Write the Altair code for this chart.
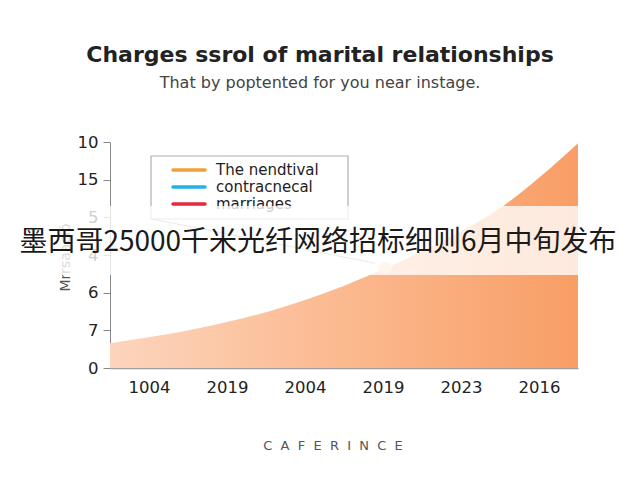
import json
import altair as alt
import pandas as pd

# ---- data ----
area_x = [0.0, 1.15, 2.01, 2.86, 3.53, 4.29, 5.04, 5.51, 6.0]
area_y = [0.66, 1.06, 1.49, 2.07, 2.65, 3.40, 4.30, 5.07, 5.97]

x_tick_labels = ["1004", "2019", "2004", "2019", "2023", "2016"]
y_tick_labels = ["0", "7", "6", "4", "5", "15", "10"]

legend_names = ["The nendtival", "contracnecal", "marriages"]
legend_colors = ["#f0a03a", "#22b2e6", "#e6283c"]

marker_x = [3.53]
marker_y = [2.65]

arrow_x = [0.53]
arrow_y = [3.96]
arrow_x2 = [3.40]
arrow_y2 = [2.78]

title_text = "Charges ssrol of marital relationships"
subtitle_text = "That by poptented for you near instage."
y_title = "Mrrsaació"
banner_text = "墨西哥25000千米光纤网络招标细则6月中旬发布"
caption_text = "\u00a0\u00a0".join("CAFERINCE")

W, H = 468, 226
FONT = "DejaVu Sans"

area_df = pd.DataFrame({"x": area_x, "y": area_y})

x_label_expr = json.dumps(x_tick_labels) + "[floor(datum.value)]"
y_label_expr = json.dumps(y_tick_labels) + "[round(datum.value)]"

xs = alt.Scale(domain=[0, 6], nice=False, zero=False)
ys = alt.Scale(domain=[0, 6], nice=False)

area = alt.Chart(area_df).mark_area(
    interpolate="monotone",
    color=alt.Gradient(
        gradient="linear",
        stops=[
            alt.GradientStop(color="#fcd5bd", offset=0),
            alt.GradientStop(color="#fbb98f", offset=0.5),
            alt.GradientStop(color="#f89e66", offset=1),
        ],
        x1=0, x2=1, y1=0, y2=0,
    ),
).encode(
    x=alt.X("x:Q", scale=xs, axis=alt.Axis(
        values=[0.5, 1.5, 2.5, 3.5, 4.5, 5.5], labelExpr=x_label_expr,
        title=None, ticks=False, grid=False, labelFontSize=16.5, labelFont=FONT,
        labelColor="#222", labelPadding=11, labelOverlap=False,
        domainColor="#a0a0a0", domainWidth=1.5)),
    y=alt.Y("y:Q", scale=ys, axis=alt.Axis(
        values=[0, 1, 2, 3, 4, 5, 6], tickCount=7, labelExpr=y_label_expr,
        title=y_title, titleFont=FONT, titleFontSize=14, titleFontWeight="normal",
        titleColor="#555", titleX=-45, titleY=115, titleAngle=270, titleBaseline="middle",
        titleAlign="center", labelOverlap=False,
        grid=False, tickSize=7, tickColor="#888", labelFontSize=16.5, labelFont=FONT,
        labelColor="#222", labelPadding=5, domainColor="#888")),
)

marker = alt.Chart(pd.DataFrame({"x": marker_x, "y": marker_y})).mark_point(
    filled=True, size=170, color="#f9d2b8", opacity=1
).encode(x=alt.X("x:Q", scale=xs), y=alt.Y("y:Q", scale=ys))

arrow = alt.Chart(pd.DataFrame({"x": arrow_x, "y": arrow_y, "x2": arrow_x2, "y2": arrow_y2})).mark_rule(
    color="#9a9a9a", strokeWidth=1
).encode(x=alt.X("x:Q", scale=xs), y=alt.Y("y:Q", scale=ys), x2="x2:Q", y2="y2:Q")

# legend box (drawn inside the plot)
legend_box = alt.Chart(pd.DataFrame({"a": [0]})).mark_rect(
    fill="white", stroke="#b0b0b0", strokeWidth=1.2
).encode(x=alt.value(41), x2=alt.value(238), y=alt.value(14), y2=alt.value(77))

legend_layers = []
row_y = [28, 45, 62]
for name, col, ry in zip(legend_names, legend_colors, row_y):
    one = pd.DataFrame({"name": [name]})
    legend_layers.append(
        alt.Chart(one).mark_rule(strokeWidth=3.5, strokeCap="round", color=col).encode(
            x=alt.value(63), x2=alt.value(95), y=alt.value(ry))
    )
    legend_layers.append(
        alt.Chart(one).mark_text(
            align="left", baseline="middle", fontSize=15, font=FONT, color="#222"
        ).encode(x=alt.value(106), y=alt.value(ry), text="name:N")
    )

banner = alt.Chart(pd.DataFrame({"a": [0]})).mark_rect(
    fill="white", opacity=0.78
).encode(x=alt.value(-110), x2=alt.value(530), y=alt.value(64), y2=alt.value(133))

banner_label = alt.Chart(pd.DataFrame({"t": [banner_text]})).mark_text(
    align="center", baseline="middle", fontSize=28, font="Noto Sans CJK SC", color="#1a1a1a"
).encode(x=alt.value(208), y=alt.value(101), text="t:N")

caption = alt.Chart(pd.DataFrame({"t": [caption_text]})).mark_text(
    align="center", baseline="middle", fontSize=13, font=FONT, color="#555"
).encode(x=alt.value(223), y=alt.value(304), text="t:N")

chart = alt.layer(
    area, arrow, marker, legend_box, *legend_layers, banner, banner_label, caption
).properties(
    width=W, height=H,
    background="white",
    autosize=alt.AutoSizeParams(type="none"),
    padding={"left": 102, "top": 134, "right": 54, "bottom": 104},
    title=alt.TitleParams(
        text=title_text, subtitle=subtitle_text, anchor="middle", dx=-24,
        fontSize=22, fontWeight="bold", font=FONT, color="#222",
        subtitleFont=FONT, subtitleFontSize=16, subtitleColor="#444",
        subtitlePadding=8, offset=42,
    ),
).configure_view(stroke=None)

chart.save("out.html", embed_options={"renderer": "svg", "actions": False})
